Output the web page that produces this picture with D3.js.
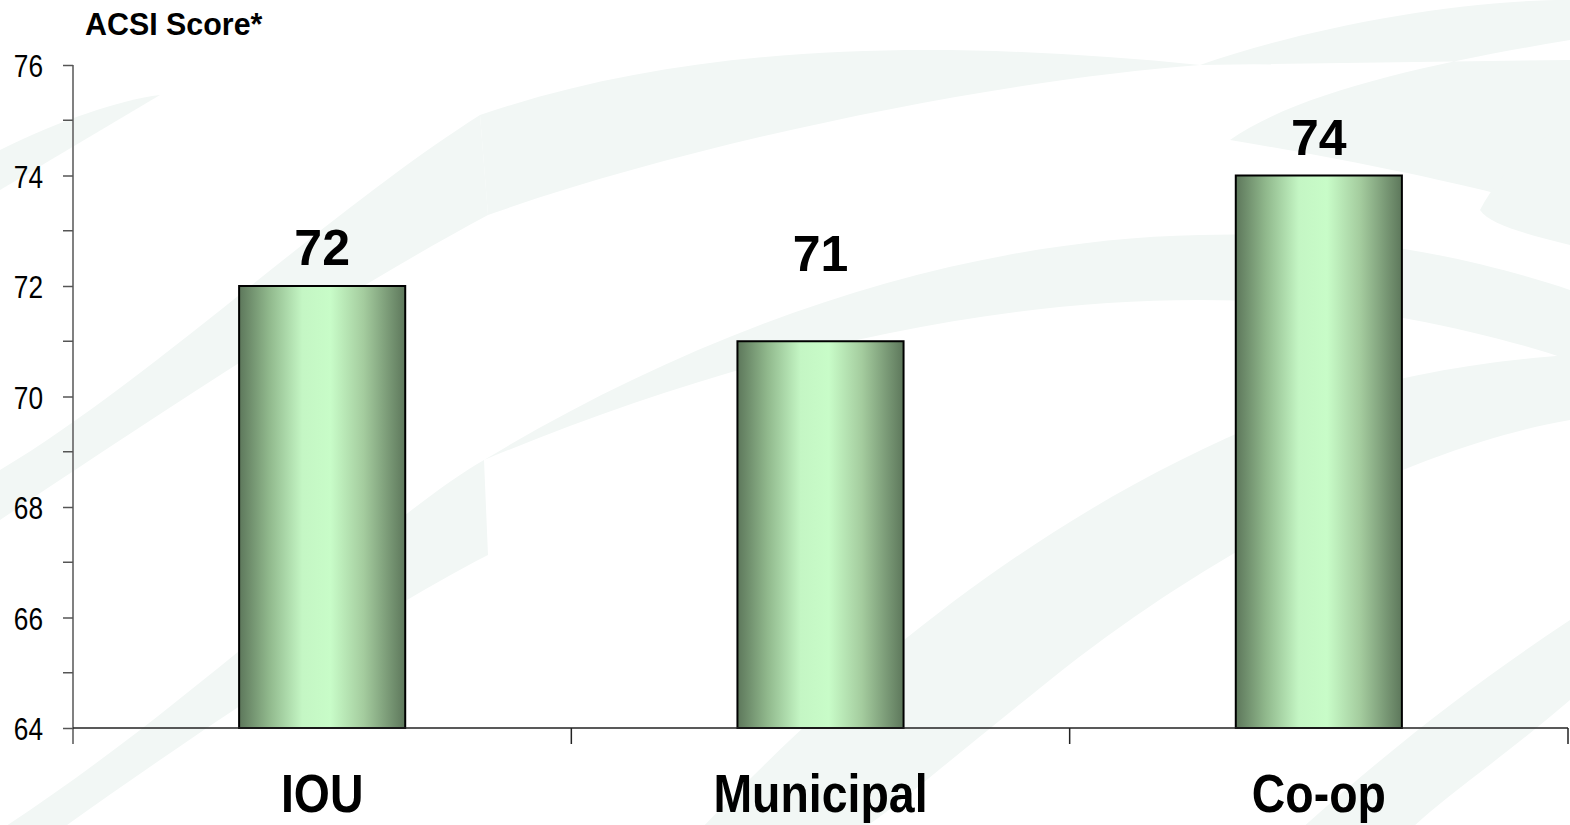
<!DOCTYPE html>
<html>
<head>
<meta charset="utf-8">
<script src="https://cdn.jsdelivr.net/npm/d3@7"></script>
<style>
  body { margin: 0; background: #fff; }
  svg { display: block; }
  text { font-family: "Liberation Sans", Arial, sans-serif; }
</style>
</head>
<body>
<svg id="chart" width="1570" height="825"></svg>
<script>
var categories = ['IOU', 'Municipal', 'Co-op']
var scores = [72, 71, 74]
var yTicks = [64, 66, 68, 70, 72, 74, 76]
var yMinorTicks = [65, 67, 69, 71, 73, 75]
var yTitle = 'ACSI Score*'

// gap between bar top and value label baseline (the Municipal label sits higher)
var labelGaps = [21, 70, 21]

var plotLeft = 73, plotRight = 1568, plotTop = 65, plotBottom = 728

var svg = d3.select('#chart')

// faint background swooshes
var bg = svg.append('g').attr('fill', '#f2f7f5')
var swooshes = [
  'M0,470 C150,380 330,210 480,115 L488,215 C330,300 150,420 0,520 Z',
  'M480,115 C700,40 950,40 1200,65 C1000,80 700,140 488,215 Z',
  'M1200,65 C1300,30 1450,0 1570,0 L1570,40 C1450,60 1300,90 1230,140 C1350,160 1500,190 1570,215 L1570,60 Z',
  'M0,830 C200,700 380,520 484,460 L488,555 C380,610 200,730 60,830 Z',
  'M484,460 C700,370 950,300 1200,300 C1350,300 1480,330 1570,360 L1570,290 C1480,260 1350,230 1200,235 C950,240 700,330 484,460 Z',
  'M1480,210 C1500,170 1540,140 1570,120 L1570,245 C1530,235 1490,225 1480,210 Z',
  'M700,830 C900,620 1100,480 1320,400 C1420,370 1500,360 1570,355 L1570,420 C1450,440 1250,520 1050,680 C950,760 880,820 860,830 Z',
  'M1300,830 C1400,740 1480,680 1570,620 L1570,700 C1500,760 1440,800 1410,830 Z',
  'M0,150 C60,120 120,100 160,95 L0,190 Z'
]
bg.selectAll('path').data(swooshes).join('path').attr('d', function (d) { return d })

var defs = svg.append('defs')
var grad = defs.append('linearGradient').attr('id', 'barGrad')
  .attr('x1', '0%').attr('x2', '100%').attr('y1', '0%').attr('y2', '0%')
var stops = [[0, '#5d775b'], [0.18, '#90b88c'], [0.38, '#c4f6c4'], [0.55, '#c8fcc8'], [0.75, '#a4cc9e'], [1, '#5d775b']]
grad.selectAll('stop').data(stops).join('stop')
  .attr('offset', function (d) { return d[0] })
  .attr('stop-color', function (d) { return d[1] })

var x = d3.scaleBand().domain(categories).range([plotLeft, plotRight]).padding(0)
var y = d3.scaleLinear().domain([64, 76]).range([plotBottom, plotTop])
var barW = x.bandwidth() / 3

// narrow text: squeeze regular Liberation Sans horizontally
function narrow (sel, k, px, py) {
  sel.attr('x', 0).attr('y', 0)
    .attr('transform', function (d, i) {
      return 'translate(' + px(d, i) + ',' + py(d, i) + ') scale(' + k + ',1)'
    })
}

// bars
svg.append('g').selectAll('rect')
  .data(categories)
  .join('rect')
  .attr('x', function (d) { return x(d) + (x.bandwidth() - barW) / 2 })
  .attr('y', function (d, i) { return y(scores[i]) })
  .attr('width', barW)
  .attr('height', function (d, i) { return y(64) - y(scores[i]) })
  .attr('fill', 'url(#barGrad)')
  .attr('stroke', '#000')
  .attr('stroke-width', 2)

// value labels
svg.append('g').selectAll('text')
  .data(categories)
  .join('text')
  .attr('x', function (d) { return x(d) + x.bandwidth() / 2 })
  .attr('y', function (d, i) { return y(scores[i]) - labelGaps[i] })
  .attr('text-anchor', 'middle')
  .style('font-weight', 'bold')
  .style('font-size', '50px')
  .text(function (d, i) { return scores[i] })

// y axis
var yAxis = svg.append('g')
  .attr('transform', 'translate(' + plotLeft + ',0)')
  .call(d3.axisLeft(y).tickValues(yTicks).tickSize(10).tickFormat(d3.format('d')))
yAxis.select('.domain').attr('stroke', '#808080').attr('stroke-width', 2)
  .attr('d', 'M0,' + plotTop + 'V' + (plotBottom + 16))
yAxis.selectAll('.tick line').attr('stroke', '#555').attr('stroke-width', 1.5)
yAxis.selectAll('.tick text')
  .attr('fill', '#000')
  .attr('dy', '0.36em')
  .style('font-family', '"Liberation Sans", Arial, sans-serif')
  .style('font-size', '32px')
  .call(narrow, 0.82, function () { return -30 }, function () { return 0 })

svg.append('g')
  .attr('transform', 'translate(' + plotLeft + ',0)')
  .selectAll('line')
  .data(yMinorTicks)
  .join('line')
  .attr('x1', -10).attr('x2', 0)
  .attr('y1', function (d) { return y(d) }).attr('y2', function (d) { return y(d) })
  .attr('stroke', '#555').attr('stroke-width', 1.5)

// x axis
var xAxis = svg.append('g').attr('transform', 'translate(0,' + plotBottom + ')')
xAxis.append('line').attr('x1', plotLeft).attr('x2', plotRight).attr('stroke', '#222').attr('stroke-width', 1.5)
xAxis.selectAll('line.tick')
  .data(categories)
  .join('line')
  .attr('class', 'tick')
  .attr('x1', function (d) { return x(d) + x.step() })
  .attr('x2', function (d) { return x(d) + x.step() })
  .attr('y1', 0).attr('y2', 16)
  .attr('stroke', '#222').attr('stroke-width', 1.5)

xAxis.selectAll('text')
  .data(categories)
  .join('text')
  .attr('text-anchor', 'middle')
  .style('font-weight', 'bold')
  .style('font-size', '54px')
  .text(function (d) { return d })
  .call(narrow, 0.86, function (d) { return x(d) + x.bandwidth() / 2 }, function () { return 84 })

// title
svg.append('text')
  .style('font-weight', 'bold')
  .style('font-size', '32px')
  .text(yTitle)
  .call(narrow, 0.95, function () { return 85 }, function () { return 35 })
</script>
</body>
</html>
